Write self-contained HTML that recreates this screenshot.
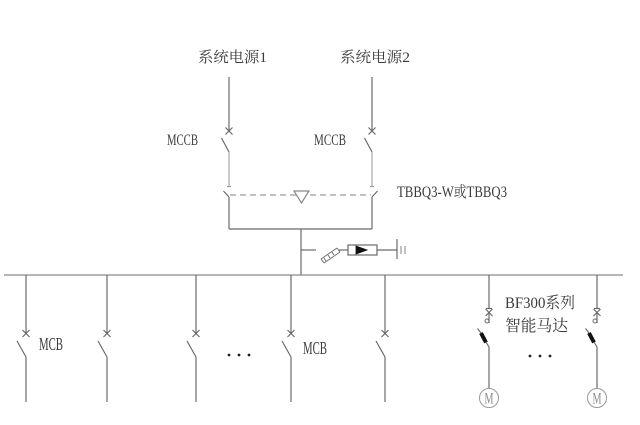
<!DOCTYPE html>
<html><head><meta charset="utf-8"><style>
html,body{margin:0;padding:0;background:#fff;}
svg{display:block;}
text{font-family:"Liberation Serif","Noto Serif CJK SC",serif;fill:#3a3a3a;}
.cjk{font-family:"Liberation Serif","Noto Serif CJK SC","Noto Sans CJK SC",serif;}
</style></head><body>
<svg width="640" height="425" viewBox="0 0 640 425" xmlns="http://www.w3.org/2000/svg">
<g stroke="#6a6a6a" stroke-width="1.2" fill="none">
  <!-- source 1 -->
  <line x1="229" y1="77" x2="229" y2="131"/>
  <line x1="225.5" y1="127.5" x2="232.5" y2="134.5"/>
  <line x1="232.5" y1="127.5" x2="225.5" y2="134.5"/>
  <line x1="221.5" y1="138" x2="229" y2="152"/>
  <line x1="229" y1="152" x2="229" y2="186" stroke="#a8a8a8"/>
  <line x1="227" y1="186.5" x2="231" y2="186.5" stroke="#999"/>
  <line x1="223.5" y1="191" x2="229" y2="197"/>
  <line x1="229" y1="197" x2="229" y2="229"/>
  <!-- source 2 -->
  <line x1="372" y1="77" x2="372" y2="131"/>
  <line x1="368.5" y1="127.5" x2="375.5" y2="134.5"/>
  <line x1="375.5" y1="127.5" x2="368.5" y2="134.5"/>
  <line x1="364.5" y1="138" x2="372" y2="152"/>
  <line x1="372" y1="152" x2="372" y2="186" stroke="#a8a8a8"/>
  <line x1="370" y1="186.5" x2="374" y2="186.5" stroke="#999"/>
  <line x1="377.5" y1="191" x2="372" y2="197"/>
  <line x1="372" y1="197" x2="372" y2="229"/>
  <!-- dashed mechanical link -->
  <line x1="230" y1="195" x2="371" y2="195" stroke="#9a9a9a" stroke-dasharray="6,4"/>
  <polygon points="294,191 309,191 301.5,203" fill="#fff" stroke="#888"/>
  <!-- bottom join -->
  <line x1="229" y1="229" x2="372" y2="229"/>
  <line x1="301" y1="229" x2="301" y2="275"/>
  <!-- side element -->
  <line x1="301" y1="250" x2="316" y2="250"/>
  <g stroke-width="0.9">
    <line x1="321" y1="259" x2="337" y2="248"/>
    <line x1="324" y1="263" x2="340" y2="252"/>
    <line x1="321" y1="259" x2="324" y2="263"/>
    <line x1="337" y1="248" x2="340" y2="252"/>
    <line x1="324" y1="258" x2="326" y2="261"/>
    <line x1="328" y1="255" x2="330" y2="258"/>
    <line x1="332" y1="252" x2="334" y2="255"/>
  </g>
  <line x1="339" y1="250" x2="348" y2="250"/>
  <rect x="348" y="245" width="29" height="10"/>
  <polygon points="356,246 367,250 356,254" fill="#111" stroke="#111" stroke-width="0.8"/>
  <line x1="377" y1="250" x2="397" y2="250"/>
  <line x1="397" y1="239" x2="397" y2="259"/>
  <line x1="401" y1="246" x2="401" y2="254" stroke="#999"/>
  <line x1="405" y1="246" x2="405" y2="254" stroke="#999"/>
  <!-- bus -->
  <line x1="4" y1="275" x2="623" y2="275" stroke="#8a8a8a"/>
</g>
<!-- MCB feeders -->
<g stroke="#6a6a6a" stroke-width="1.2" fill="none">
  <g id="f1">
    <line x1="26" y1="275" x2="26" y2="333"/>
    <line x1="22.5" y1="330" x2="29.5" y2="337"/>
    <line x1="29.5" y1="330" x2="22.5" y2="337"/>
    <line x1="17" y1="341" x2="26" y2="357"/>
    <line x1="26" y1="357" x2="26" y2="402"/>
  </g>
  <use href="#f1" x="81"/>
  <use href="#f1" x="170"/>
  <use href="#f1" x="265"/>
  <use href="#f1" x="359"/>
  <!-- motor feeders -->
  <g id="m1">
    <line x1="489" y1="275" x2="489" y2="309"/>
    <line x1="486" y1="308.5" x2="492" y2="308.5"/>
    <line x1="485.5" y1="309" x2="492.5" y2="316"/>
    <line x1="492.5" y1="309" x2="485.5" y2="316"/>
    <line x1="489" y1="312" x2="489" y2="323"/>
    <circle cx="487" cy="321" r="2" stroke-width="1"/>
    <line x1="477.5" y1="328.5" x2="481" y2="333"/>
    <line x1="481" y1="333" x2="486" y2="342.5" stroke="#111" stroke-width="4"/>
    <line x1="486" y1="342" x2="489" y2="347"/>
    <line x1="489" y1="347" x2="489" y2="388"/>
    <circle cx="489" cy="398" r="9.5" stroke="#9a9a9a" stroke-width="1"/>
  </g>
  <use href="#m1" x="108"/>
</g>
<g fill="#222">
  <circle cx="229" cy="355" r="1.4"/><circle cx="239" cy="355" r="1.4"/><circle cx="249" cy="355" r="1.4"/>
  <circle cx="530" cy="356" r="1.4"/><circle cx="540" cy="356" r="1.4"/><circle cx="550" cy="356" r="1.4"/>
</g>
<!-- labels -->
<text class="cjk" x="198" y="62" font-size="15" textLength="69" lengthAdjust="spacingAndGlyphs">系统电源1</text>
<text class="cjk" x="340" y="62" font-size="15" textLength="70" lengthAdjust="spacingAndGlyphs">系统电源2</text>
<text x="167" y="145" font-size="15.5" textLength="31" lengthAdjust="spacingAndGlyphs">MCCB</text>
<text x="314" y="145" font-size="15.5" textLength="32" lengthAdjust="spacingAndGlyphs">MCCB</text>
<text class="cjk" x="397" y="197" font-size="15.5" textLength="110" lengthAdjust="spacingAndGlyphs">TBBQ3-W或TBBQ3</text>
<text x="39" y="350" font-size="17.5" textLength="24" lengthAdjust="spacingAndGlyphs">MCB</text>
<text x="303" y="354" font-size="17.5" textLength="24" lengthAdjust="spacingAndGlyphs">MCB</text>
<text class="cjk" x="505" y="308" font-size="16" textLength="70" lengthAdjust="spacingAndGlyphs">BF300系列</text>
<text class="cjk" x="505" y="331" font-size="16" textLength="63" lengthAdjust="spacingAndGlyphs">智能马达</text>
<text x="484.5" y="403.5" font-size="16" style="fill:#8a8a8a" textLength="9" lengthAdjust="spacingAndGlyphs">M</text>
<text x="592.5" y="403.5" font-size="16" style="fill:#8a8a8a" textLength="9" lengthAdjust="spacingAndGlyphs">M</text>
</svg>
</body></html>
